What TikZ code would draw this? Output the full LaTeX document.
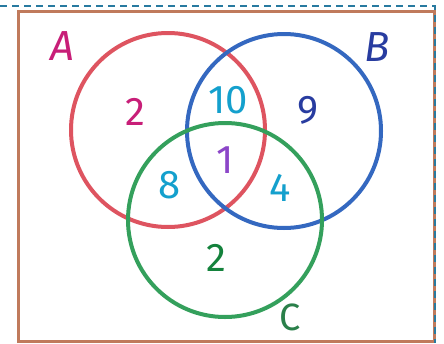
\documentclass[tikz,border=0pt]{standalone}
\usepackage{fontspec}
\setmainfont{Fira Sans}
\definecolor{cred}{RGB}{222,84,96}
\definecolor{cblue}{RGB}{52,104,192}
\definecolor{cgreen}{RGB}{52,160,92}
\definecolor{cbrown}{RGB}{192,122,92}
\definecolor{cdash}{RGB}{40,122,160}
\definecolor{tmag}{RGB}{200,30,120}
\definecolor{tteal}{RGB}{20,160,205}
\definecolor{tdblue}{RGB}{40,60,160}
\definecolor{tpurple}{RGB}{140,70,200}
\definecolor{tgreen}{RGB}{20,130,60}
\begin{document}
\begin{tikzpicture}[x=1pt,y=-1pt,
  setcircle/.style={line width=4pt},
  lbl/.style={font=\fontsize{42}{42}\selectfont, inner sep=0pt},
  num/.style={font=\fontsize{40}{40}\selectfont, inner sep=0pt}]
\useasboundingbox (0,0) rectangle (444,343);
\fill[white] (0,0) rectangle (444,343);
\draw[cbrown, line width=3pt] (18,11) rectangle (434,341);
\draw[cdash, line width=2.5pt, dash pattern=on 7pt off 5pt] (0,6) -- (435,6) -- (435,343);
\node[draw=cred, setcircle, circle, minimum size=194pt, inner sep=0pt] (A) at (168,130) {};
\node[draw=cblue, setcircle, circle, minimum size=194pt, inner sep=0pt] (B) at (284,131) {};
\node[draw=cgreen, setcircle, circle, minimum size=194pt, inner sep=0pt] (C) at (225,220) {};
\node[lbl, text=tmag] (la) at (62,46) {\itshape A};
\node[lbl, text=tdblue] (lb) at (377,47) {\itshape B};
\node[lbl, text=cgreen!80!black, font=\fontsize{38}{38}\selectfont] (lc) at (290,317) {C};
\node[num, text=tmag] (n1) at (135,112) {2};
\node[num, text=tteal] (n2) at (228,100) {10};
\node[num, text=tdblue] (n3) at (308,110) {9};
\node[num, text=tteal] (n4) at (170,185) {8};
\node[num, text=tpurple] (n5) at (225,160) {1};
\node[num, text=tteal] (n6) at (280,188) {4};
\node[num, text=tgreen] (n7) at (216,258) {2};
\end{tikzpicture}
\end{document}
